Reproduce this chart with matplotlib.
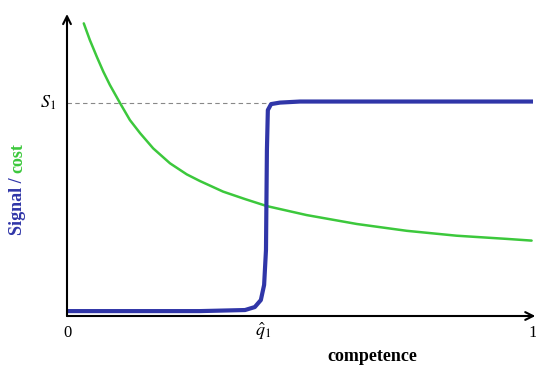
import matplotlib
matplotlib.use("Agg")
import matplotlib.pyplot as plt

plt.rcParams['font.family'] = ['Liberation Serif', 'DejaVu Serif']
plt.rcParams['mathtext.fontset'] = 'stix'

# cost curve (green)
cost_x = [0.036, 0.049, 0.064, 0.078, 0.092, 0.114, 0.135, 0.157, 0.185,
          0.221, 0.257, 0.285, 0.335, 0.382, 0.429, 0.514, 0.622, 0.729,
          0.836, 0.944, 0.997]
cost_y = [1.374, 1.296, 1.217, 1.147, 1.085, 0.999, 0.920, 0.858, 0.787,
          0.717, 0.665, 0.634, 0.584, 0.549, 0.516, 0.474, 0.432, 0.400,
          0.377, 0.362, 0.354]

# signal curve (blue)
sig_x = [0.0, 0.285, 0.382, 0.403, 0.416, 0.423, 0.427, 0.429, 0.431,
         0.438, 0.457, 0.5, 1.0]
sig_y = [0.023, 0.023, 0.028, 0.042, 0.075, 0.146, 0.310, 0.779, 0.967,
         0.995, 1.002, 1.007, 1.007]

s1 = 1.0
q_hat = 0.421
ymax = 1.418

blue = '#3036a8'
green = '#3cc83c'

fig = plt.figure(figsize=(5.36, 3.65), dpi=100)
ax = fig.add_axes([67/536, 49/365, 466/536, 302/365])
ax.set_xlim(0, 1)
ax.set_ylim(0, ymax)
ax.axis('off')

ax.plot([0, 0.44], [s1, s1], ls=(0, (4, 3)), color='#888888', lw=0.8)
ax.plot(cost_x, cost_y, color=green, lw=1.8, solid_capstyle='round',
        solid_joinstyle='round')
ax.plot(sig_x, sig_y, color=blue, lw=3.0, solid_joinstyle='round')

ax.annotate('', xy=(0, ymax), xytext=(0, 0),
            arrowprops=dict(arrowstyle='->', lw=1.5, color='black',
                            shrinkA=0, shrinkB=0, mutation_scale=14),
            annotation_clip=False)
ax.annotate('', xy=(1.005, 0), xytext=(0, 0),
            arrowprops=dict(arrowstyle='->', lw=1.5, color='black',
                            shrinkA=0, shrinkB=0, mutation_scale=14),
            annotation_clip=False)

ax.text(0, -0.08, '0', ha='center', va='center', fontsize=12)
ax.text(1.0, -0.08, '1', ha='center', va='center', fontsize=12)
ax.text(q_hat, -0.07, r'$\hat{q}_1$', ha='center', va='center', fontsize=13)
ax.text(-0.04, s1, r'$S_1$', ha='center', va='center', fontsize=13)
ax.text(0.655, -0.19, 'competence', ha='center', va='center',
        fontsize=13, fontweight='bold')

# two-colour y label
t1 = fig.text(18/536, 1 - 235/365, 'Signal / ', rotation=90, ha='center',
              va='bottom', fontsize=13, fontweight='bold', color=blue)
fig.canvas.draw()
bb = t1.get_window_extent()
fig.text(18/536, bb.y1/fig.bbox.height, 'cost', rotation=90, ha='center',
         va='bottom', fontsize=13, fontweight='bold', color=green)

fig.savefig('out.png', dpi=100)
